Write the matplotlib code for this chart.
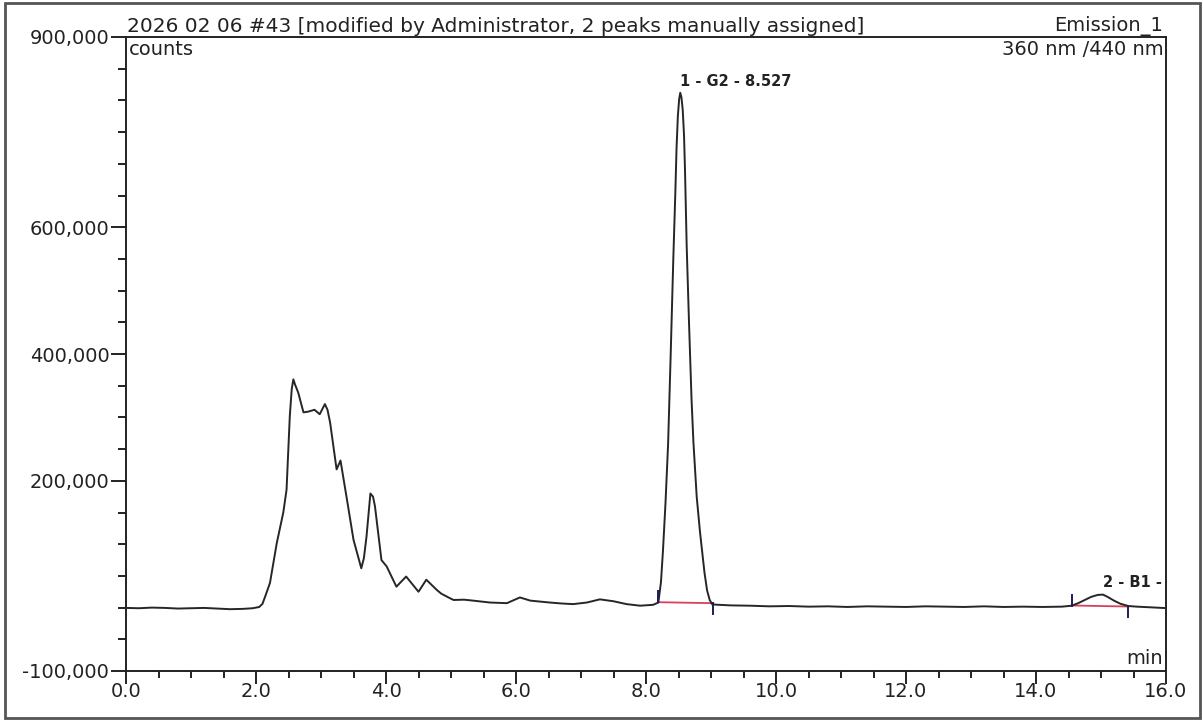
import numpy as np
import matplotlib.pyplot as plt
from matplotlib.ticker import FixedLocator, MultipleLocator, FuncFormatter
from matplotlib.patches import Rectangle

# chromatogram trace, emission channel 360/440 nm
time_min = [0.00, 0.20, 0.40, 0.60, 0.80, 1.00, 1.20, 1.40, 1.60, 1.80, 1.95,
            2.05, 2.10, 2.15, 2.215, 2.32, 2.42, 2.47, 2.52, 2.55, 2.575, 2.60,
            2.65, 2.73, 2.80, 2.90, 2.98, 3.02, 3.06, 3.10, 3.14, 3.24, 3.30,
            3.40, 3.50, 3.62, 3.66, 3.70, 3.76, 3.80, 3.83, 3.93, 4.01, 4.16,
            4.31, 4.50, 4.62, 4.78, 4.85, 4.98, 5.04, 5.20, 5.34, 5.60, 5.86,
            6.06, 6.22, 6.52, 6.70, 6.88, 7.09, 7.29, 7.50, 7.70, 7.91, 8.11,
            8.19, 8.23, 8.26, 8.30, 8.34, 8.38, 8.42, 8.45, 8.47, 8.49, 8.51,
            8.527, 8.545, 8.565, 8.585, 8.60, 8.626, 8.66, 8.70, 8.73, 8.78,
            8.83, 8.86, 8.90, 8.94, 8.98, 9.02, 9.10, 9.30, 9.60, 9.90, 10.2,
            10.5, 10.8, 11.1, 11.4, 11.7, 12.0, 12.3, 12.6, 12.9, 13.2, 13.5,
            13.8, 14.1, 14.4, 14.55, 14.65, 14.75, 14.85, 14.95, 15.03, 15.10,
            15.20, 15.30, 15.42, 15.55, 15.75, 16.00]
counts = [-500, -1000, 0, -500, -1500, -1000, -500, -1500, -2500, -2000, -1000,
          1000, 6000, 20000, 39000, 102000, 150000, 186000, 302000, 345000,
          360000, 352000, 339000, 308000, 309000, 312000, 305000, 313000,
          321000, 312000, 292000, 218000, 232000, 170000, 107000, 62000, 78000,
          112000, 180000, 175000, 160000, 75000, 65000, 33000, 49000, 25000,
          44000, 28000, 22000, 15000, 12000, 12500, 11000, 8000, 7000, 16000,
          11000, 8000, 6500, 5500, 8000, 13000, 10000, 5500, 3000, 4400, 8000,
          40000, 88000, 165000, 258000, 400000, 550000, 650000, 725000, 775000,
          802000, 812000, 805000, 785000, 745000, 690000, 570000, 455000,
          330000, 260000, 175000, 120000, 92000, 55000, 27000, 12000, 5000,
          4500, 3500, 3000, 2000, 2500, 1500, 2000, 1000, 2000, 1500, 1000,
          2000, 1500, 1000, 2000, 1000, 1500, 1000, 1500, 3000, 7000, 12000,
          17000, 20000, 20500, 17000, 11000, 6000, 2500, 1500, 500, -800]

# integrated peaks
peak_labels = ['1 - G2 - 8.527', '2 - B1 - 15.030']
peak_rt = [8.527, 15.03]
peak_height = [812000, 20500]
peak_start = [8.19, 14.55]
peak_end = [9.035, 15.42]
base_start = [8500, 3300]
base_end = [7000, 1700]

fig = plt.figure(figsize=(12.03, 7.2), dpi=100)
W, H = 1203, 720
ax = fig.add_axes([126 / W, 1 - 671 / H, (1166 - 126) / W, (671 - 37) / H])

ax.plot(time_min, counts, color='#262626', lw=1.4, zorder=3)

tick_len = 17000
for i in range(len(peak_rt)):
    ax.plot([peak_start[i], peak_end[i]], [base_start[i], base_end[i]],
            color='#d8405c', lw=1.3, zorder=2)
    ax.plot([peak_start[i], peak_start[i]], [base_start[i], base_start[i] + tick_len],
            color='#1c1c5c', lw=1.4, zorder=4)
    ax.plot([peak_end[i], peak_end[i]], [base_end[i], base_end[i] - tick_len],
            color='#1c1c5c', lw=1.4, zorder=4)
    # labels past the right edge get cut by the plot area, as in the report
    ax.annotate(peak_labels[i], xy=(peak_rt[i], peak_height[i]),
                xytext=(0, 3), textcoords='offset points', ha='left', va='bottom',
                fontsize=10.5, fontweight='bold', color='#222222',
                annotation_clip=False, clip_on=True)

ax.set_xlim(0, 16)
ax.set_ylim(-100000, 900000)

ax.xaxis.set_major_locator(MultipleLocator(2))
ax.xaxis.set_minor_locator(MultipleLocator(0.5))
ax.xaxis.set_major_formatter(FuncFormatter(lambda v, p: '%.1f' % v))

y_major = [-100000, 200000, 400000, 600000, 900000]
y_minor = [v for v in range(-100000, 900001, 50000) if v not in y_major]
ax.yaxis.set_major_locator(FixedLocator(y_major))
ax.yaxis.set_minor_locator(FixedLocator(y_minor))
ax.yaxis.set_major_formatter(FuncFormatter(lambda v, p: '{:,.0f}'.format(v)))

ax.tick_params(axis='x', which='major', direction='out', length=9, width=1.4,
               pad=-1, labelsize=14, colors='#222222')
ax.tick_params(axis='x', which='minor', direction='out', length=5, width=1.4,
               colors='#222222')
ax.tick_params(axis='y', which='major', direction='out', length=11, width=1.4,
               pad=1, labelsize=14, colors='#222222')
ax.tick_params(axis='y', which='minor', direction='out', length=5.5, width=1.4,
               colors='#222222')
for s in ax.spines.values():
    s.set_linewidth(1.4)
    s.set_color('#222222')

ax.annotate('2026 02 06 #43 [modified by Administrator, 2 peaks manually assigned]',
            xy=(0, 1), xycoords='axes fraction', xytext=(1, 1),
            textcoords='offset points', ha='left', va='bottom', fontsize=14.5,
            color='#222222')
ax.annotate('Emission_1', xy=(1, 1), xycoords='axes fraction', xytext=(-2, 1),
            textcoords='offset points', ha='right', va='bottom', fontsize=14,
            color='#222222')
ax.annotate('counts', xy=(0, 1), xycoords='axes fraction', xytext=(2, -2),
            textcoords='offset points', ha='left', va='top', fontsize=14,
            color='#222222')
ax.annotate('360 nm /440 nm', xy=(1, 1), xycoords='axes fraction', xytext=(-2, -2),
            textcoords='offset points', ha='right', va='top', fontsize=14,
            color='#222222')
ax.annotate('min', xy=(1, 0), xycoords='axes fraction', xytext=(-2, 2),
            textcoords='offset points', ha='right', va='bottom', fontsize=14,
            color='#222222')

# outer frame of the report
fig.patches.append(Rectangle((5 / W, 2 / H), 1195 / W, 715 / H, transform=fig.transFigure,
                             fill=False, edgecolor='#555555', lw=2))

fig.savefig('out.png', dpi=100)
